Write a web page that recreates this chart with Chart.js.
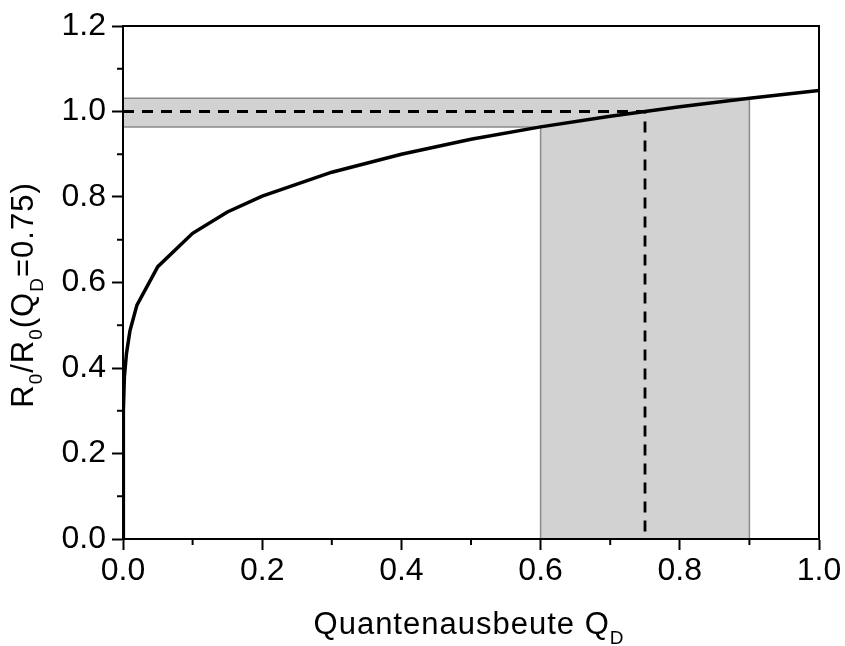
<!DOCTYPE html>
<html>
<head>
<meta charset="utf-8">
<script src="https://cdn.jsdelivr.net/npm/chart.js@4"></script>
<style>
  html, body { margin: 0; padding: 0; background: #fff; }
  #wrap { width: 845px; height: 646px; }
</style>
</head>
<body>
<div id="wrap"><canvas id="qdChart" width="845" height="646"></canvas></div>
<script>
// curve R0/R0(QD=0.75)
const qValues = [0, 0.0005, 0.002, 0.005, 0.01, 0.02, 0.05, 0.1, 0.15, 0.2, 0.3, 0.4, 0.5, 0.6, 0.7, 0.75, 0.8, 0.9, 1.0];
const rValues = [0, 0.30, 0.38, 0.434, 0.487, 0.547, 0.637, 0.715, 0.765, 0.802, 0.858, 0.900, 0.935, 0.964, 0.989, 1.0, 1.011, 1.031, 1.049];

// shaded region outline (x, y)
const bandX = [0, 0.9, 0.9, 0.6, 0.6, 0, 0];
const bandY = [1.031, 1.031, 0, 0, 0.964, 0.964, 1.031];

// dashed guide to QD = 0.75
const guideX = [0, 0.75, 0.75];
const guideY = [1, 1, 0];

const xTicks = [0, 0.2, 0.4, 0.6, 0.8, 1.0];
const yTicks = [0, 0.2, 0.4, 0.6, 0.8, 1.0, 1.2];

const FONT = "'Liberation Sans', Arial, sans-serif";

function pts(xs, ys) {
    return xs.map((x, i) => ({ x: x, y: ys[i] }));
}

// frame, minor ticks and the axis titles with subscripts
const extras = {
    id: "extras",
    afterDraw(chart) {
        const c = chart.ctx;
        const a = chart.chartArea;
        const xs = chart.scales.x;
        const ys = chart.scales.y;
        c.save();
        c.strokeStyle = "#000";
        c.lineWidth = 2;
        c.strokeRect(a.left, a.top, a.right - a.left, a.bottom - a.top);

        // minor ticks
        for (let i = 1; i < 10; i += 2) {
            const px = xs.getPixelForValue(i / 10);
            c.beginPath();
            c.moveTo(px, a.bottom);
            c.lineTo(px, a.bottom + 6);
            c.stroke();
        }
        for (let i = 1; i < 12; i += 2) {
            const py = ys.getPixelForValue(i / 10);
            c.beginPath();
            c.moveTo(a.left, py);
            c.lineTo(a.left - 6, py);
            c.stroke();
        }

        c.fillStyle = "#000";
        c.textBaseline = "alphabetic";
        const big = "31px " + FONT;
        const small = "19px " + FONT;
        c.letterSpacing = "1px";

        // x title
        const xParts = [["Quantenausbeute Q", big, 0], ["D", small, 10]];
        drawParts(c, xParts, (a.left + a.right) / 2 - 2, 634);

        // y title, rotated
        c.translate(33, 295);
        c.rotate(-Math.PI / 2);
        const yParts = [["R", big, 0], ["0", small, 9], ["/R", big, 0], ["0", small, 9],
                        ["(Q", big, 0], ["D", small, 10], ["=0.75)", big, 0]];
        drawParts(c, yParts, 0, 0);
        c.restore();
    }
};

function drawParts(c, parts, cx, baseline) {
    let total = 0;
    parts.forEach(p => { c.font = p[1]; total += c.measureText(p[0]).width; });
    let x = cx - total / 2;
    c.textAlign = "left";
    parts.forEach(p => {
        c.font = p[1];
        c.fillText(p[0], x, baseline + p[2]);
        x += c.measureText(p[0]).width;
    });
}

new Chart(document.getElementById("qdChart"), {
    type: "scatter",
    data: {
        datasets: [
            {
                data: pts(qValues, rValues),
                showLine: true,
                borderColor: "#000",
                borderWidth: 3.5,
                pointRadius: 0,
                tension: 0,
                order: 0
            },
            {
                data: pts(guideX, guideY),
                showLine: true,
                borderColor: "#000",
                borderWidth: 2.8,
                borderDash: [11, 8],
                pointRadius: 0,
                order: 1
            },
            {
                data: pts(bandX, bandY),
                showLine: true,
                borderColor: "#8a8a8a",
                borderWidth: 1.5,
                backgroundColor: "#d2d2d2",
                fill: "shape",
                pointRadius: 0,
                order: 2
            }
        ]
    },
    options: {
        responsive: false,
        animation: false,
        layout: { padding: { left: 0, right: 26, top: 26, bottom: 0 } },
        plugins: {
            legend: { display: false },
            tooltip: { enabled: false }
        },
        scales: {
            x: {
                type: "linear",
                min: 0,
                max: 1,
                afterFit: s => { s.height = 107; },
                border: { color: "#000", width: 2 },
                grid: {
                    drawOnChartArea: false,
                    tickLength: 11,
                    tickWidth: 2,
                    tickColor: "#000"
                },
                afterBuildTicks: s => { s.ticks = xTicks.map(v => ({ value: v })); },
                ticks: {
                    autoSkip: false,
                    maxRotation: 0,
                    padding: 2,
                    color: "#000",
                    font: { family: FONT, size: 32 },
                    callback: v => v.toFixed(1)
                }
            },
            y: {
                type: "linear",
                min: 0,
                max: 1.2,
                afterFit: s => { s.width = 123; },
                border: { color: "#000", width: 2 },
                grid: {
                    drawOnChartArea: false,
                    tickLength: 11,
                    tickWidth: 2,
                    tickColor: "#000"
                },
                afterBuildTicks: s => { s.ticks = yTicks.map(v => ({ value: v })); },
                ticks: {
                    autoSkip: false,
                    padding: 6,
                    color: "#000",
                    font: { family: FONT, size: 32 },
                    callback: v => v.toFixed(1)
                }
            }
        }
    },
    plugins: [extras]
});
</script>
</body>
</html>
